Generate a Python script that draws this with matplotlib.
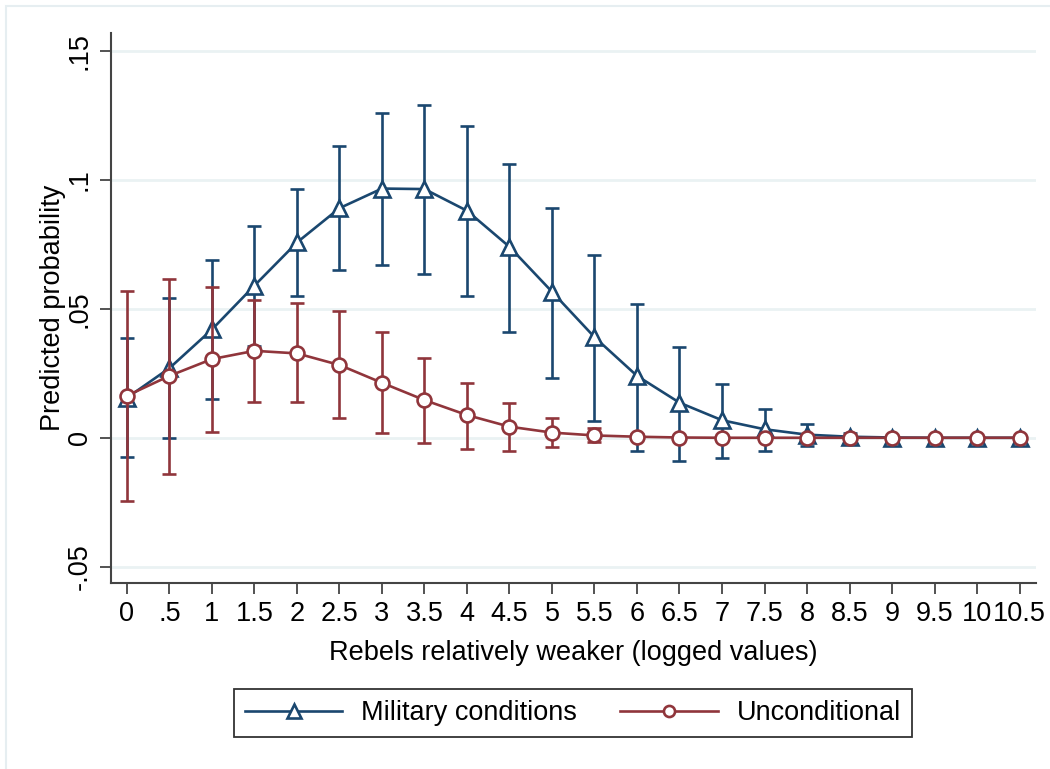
import numpy as np
import matplotlib
matplotlib.use('Agg')
import matplotlib.pyplot as plt
from matplotlib.patches import Rectangle

plt.rcParams['font.family'] = ['Liberation Sans', 'DejaVu Sans']

# Datos
x = [0, 0.5, 1, 1.5, 2, 2.5, 3, 3.5, 4, 4.5, 5, 5.5, 6, 6.5, 7, 7.5, 8, 8.5, 9, 9.5, 10, 10.5]
x_labels = ['0', '.5', '1', '1.5', '2', '2.5', '3', '3.5', '4', '4.5', '5', '5.5',
            '6', '6.5', '7', '7.5', '8', '8.5', '9', '9.5', '10', '10.5']

mil = [0.0155, 0.027, 0.042, 0.059, 0.0757, 0.089, 0.0966, 0.0964, 0.088, 0.074, 0.0566,
       0.039, 0.024, 0.0136, 0.0068, 0.0033, 0.0012, 0.0004, 0.0001, 0.0, 0.0, 0.0]
mil_lo = [-0.0075, 0.0, 0.015, 0.0355, 0.055, 0.065, 0.067, 0.0635, 0.055, 0.041, 0.023,
          0.0065, -0.005, -0.009, -0.008, -0.005, -0.003, -0.0012, -0.0005, -0.0002, -0.0001, 0.0]
mil_hi = [0.0385, 0.054, 0.069, 0.082, 0.0965, 0.113, 0.126, 0.129, 0.121, 0.106, 0.089,
          0.071, 0.052, 0.035, 0.021, 0.011, 0.0053, 0.002, 0.0007, 0.0002, 0.0001, 0.0]

unc = [0.0163, 0.024, 0.0305, 0.0337, 0.0327, 0.0282, 0.0213, 0.0146, 0.0088, 0.0043, 0.002,
       0.0009, 0.0004, 0.0001, 0.0, 0.0, 0.0, 0.0, 0.0, 0.0, 0.0, 0.0]
unc_lo = [-0.0245, -0.014, 0.0022, 0.014, 0.0137, 0.0075, 0.002, -0.0022, -0.0045, -0.005, -0.0037,
          -0.0018, -0.0006, -0.0002, -0.0001, 0.0, 0.0, 0.0, 0.0, 0.0, 0.0, 0.0]
unc_hi = [0.057, 0.0615, 0.0585, 0.0535, 0.0523, 0.049, 0.041, 0.031, 0.0213, 0.0133, 0.0077,
          0.0036, 0.0014, 0.0004, 0.0001, 0.0, 0.0, 0.0, 0.0, 0.0, 0.0, 0.0]

y_ticks = [-0.05, 0, 0.05, 0.1, 0.15]
y_labels = ['-.05', '0', '.05', '.1', '.15']

blue = '#1A476F'
red = '#90353B'
grid_col = '#EAF2F3'
fs = 19.5

fig = plt.figure(figsize=(10.5, 7.69), dpi=100)
fig.patches.append(Rectangle((6 / 1050, -0.05), 1.1, 1 - 6 / 769 + 0.05,
                             transform=fig.transFigure, fill=False,
                             edgecolor='#E6EEF1', lw=1.5, zorder=0))

ax = fig.add_axes([111 / 1050, 1 - 583 / 769, 925 / 1050, 550 / 769])

mil_a = np.array(mil)
unc_a = np.array(unc)

ax.errorbar(x, mil, yerr=[mil_a - np.array(mil_lo), np.array(mil_hi) - mil_a],
            fmt='none', ecolor=blue, elinewidth=1.9, capsize=5, capthick=1.9, zorder=3)
ax.plot(x, mil, color=blue, lw=1.9, marker='^', ms=12, mfc='white', mec=blue, mew=1.9,
        zorder=4, label='Military conditions')
ax.errorbar(x, unc, yerr=[unc_a - np.array(unc_lo), np.array(unc_hi) - unc_a],
            fmt='none', ecolor=red, elinewidth=1.9, capsize=5, capthick=1.9, zorder=5)
ax.plot(x, unc, color=red, lw=1.9, marker='o', ms=10, mfc='white', mec=red, mew=1.9,
        zorder=6, label='Unconditional')

ax.set_xlim(-0.188, 10.694)
ax.set_ylim(-0.0563, 0.1569)
ax.set_xticks(x)
ax.set_xticklabels(x_labels)
ax.set_yticks(y_ticks)
ax.set_yticklabels(y_labels, rotation=90, va='center')
ax.tick_params(axis='both', labelsize=fs, length=8, width=1.3, color='#444444', pad=5)
ax.yaxis.grid(True, color=grid_col, lw=2)
ax.set_axisbelow(True)

for s in ['top', 'right']:
    ax.spines[s].set_visible(False)
for s in ['left', 'bottom']:
    ax.spines[s].set_color('#444444')
    ax.spines[s].set_linewidth(1.5)

ax.set_xlabel('Rebels relatively weaker (logged values)', fontsize=fs, labelpad=9)
ax.set_ylabel('Predicted probability', fontsize=fs, labelpad=1)

leg = fig.legend(loc='center', bbox_to_anchor=(573 / 1050, 1 - 713 / 769), ncol=2,
                 fontsize=fs, frameon=True, fancybox=False, handlelength=3.6,
                 handletextpad=0.7, columnspacing=1.6, borderpad=0.4, markerscale=0.8)
leg.get_frame().set_edgecolor('black')
leg.get_frame().set_linewidth(1.3)

fig.savefig('out.png', dpi=100)
